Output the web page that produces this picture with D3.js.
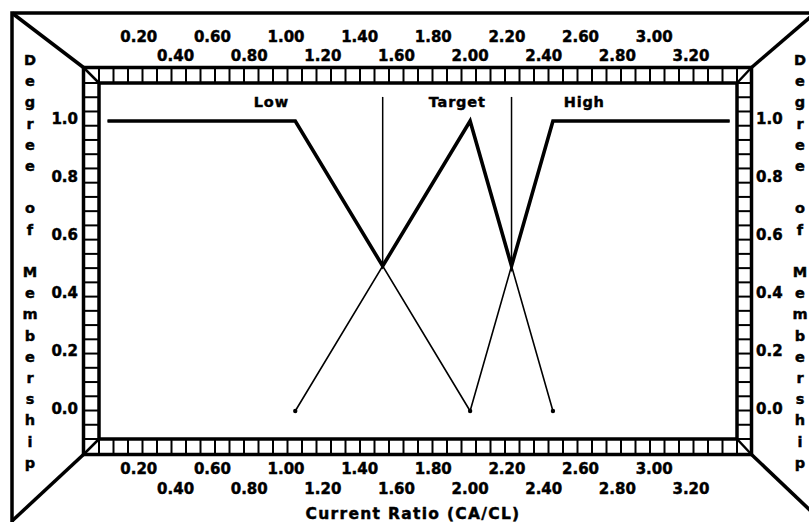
<!DOCTYPE html>
<html><head><meta charset="utf-8">
<script src="https://cdn.jsdelivr.net/npm/d3@7"></script>
<style>
html,body{margin:0;padding:0;background:#fff;}
svg{display:block;}
text{font-family:"DejaVu Sans",sans-serif;font-weight:bold;fill:#000;stroke:#000;stroke-width:0.45px;}
</style></head>
<body>
<svg id="c" width="809" height="522"></svg>
<script>
// ---- data ----
const xTicksRow1 = [0.20, 0.60, 1.00, 1.40, 1.80, 2.20, 2.60, 3.00];
const xTicksRow2 = [0.40, 0.80, 1.20, 1.60, 2.00, 2.40, 2.80, 3.20];
const yTicks = [0.0, 0.2, 0.4, 0.6, 0.8, 1.0];
const lowSet = [[0.03, 1], [1.05, 1], [2.00, 0]];
const targetSet = [[1.05, 0], [2.00, 1], [2.45, 0]];
const highSet = [[2.00, 0], [2.45, 1], [3.41, 1]];
const envelope = [[0.03, 1], [1.05, 1], [1.525, 0.5], [2.00, 1], [2.225, 0.5], [2.45, 1], [3.41, 1]];
const zeroPoints = [[1.05, 0], [2.00, 0], [2.45, 0]];
const crossMarks = [1.525, 2.225];
const setLabels = ["Low", "Target", "High"];
const setLabelX = [0.92, 1.93, 2.62];
const yTitle = "Degree of Membership";
const xTitle = "Current Ratio (CA/CL)";

// ---- layout ----
const svg = d3.select("#c");
const P = {l: 99, r: 737, t: 83, b: 439}; // inner plot
const S = 15.5;                             // strip width
const x = d3.scaleLinear().domain([0, 3.45]).range([102, 737]);
const y = d3.scaleLinear().domain([0, 1]).range([411, 121]);

const outer = {l: 12, t: 13, r: 815, bl: 521, br: 515};
const O = {l: P.l - S, r: P.r + S - 1, t: P.t - S, b: P.b + S};

// outer frame
svg.append("path")
  .attr("d", `M${outer.l},${outer.bl + 10}L${outer.l},${outer.t}L${outer.r},${outer.t}L${outer.r},${outer.br}`)
  .attr("fill", "none").attr("stroke", "#000").attr("stroke-width", 3.5);
const diag = [[outer.l, outer.t, O.l, O.t], [outer.r, outer.t, O.r, O.t],
              [outer.l, outer.bl, O.l, O.b], [outer.r, outer.br, O.r, O.b]];
svg.selectAll(".dg").data(diag).enter().append("line")
  .attr("x1", d => d[0]).attr("y1", d => d[1]).attr("x2", d => d[2]).attr("y2", d => d[3])
  .attr("stroke", "#000").attr("stroke-width", 3.5);

// tick strips
const g = svg.append("g");
const nx = 44, ny = 25;
const dxs = d3.range(nx + 1).map(i => P.l + i * (P.r - P.l) / nx);
const dys = d3.range(ny + 1).map(i => P.t + i * (P.b - P.t) / ny);
g.selectAll(".vt").data(dxs).enter().append("line")
  .attr("x1", d => d).attr("x2", d => d).attr("y1", O.t).attr("y2", P.t)
  .attr("stroke", "#000").attr("stroke-width", 2);
g.selectAll(".vb").data(dxs).enter().append("line")
  .attr("x1", d => d).attr("x2", d => d).attr("y1", P.b).attr("y2", O.b)
  .attr("stroke", "#000").attr("stroke-width", 2);
g.selectAll(".hl").data(dys).enter().append("line")
  .attr("y1", d => d).attr("y2", d => d).attr("x1", O.l).attr("x2", P.l)
  .attr("stroke", "#000").attr("stroke-width", 2);
g.selectAll(".hr").data(dys).enter().append("line")
  .attr("y1", d => d).attr("y2", d => d).attr("x1", P.r).attr("x2", O.r)
  .attr("stroke", "#000").attr("stroke-width", 2);
g.append("rect").attr("x", O.l).attr("y", O.t).attr("width", O.r - O.l).attr("height", O.b - O.t)
  .attr("fill", "none").attr("stroke", "#000").attr("stroke-width", 3.5);
g.append("rect").attr("x", P.l).attr("y", P.t).attr("width", P.r - P.l).attr("height", P.b - P.t)
  .attr("fill", "none").attr("stroke", "#000").attr("stroke-width", 3.5);
[[O.l, O.t, P.l, P.t], [O.r, O.t, P.r, P.t], [O.l, O.b, P.l, P.b], [O.r, O.b, P.r, P.b]].forEach(d => {
  g.append("line").attr("x1", d[0]).attr("y1", d[1]).attr("x2", d[2]).attr("y2", d[3])
    .attr("stroke", "#000").attr("stroke-width", 2.5);
});

// x tick labels (top and bottom, two staggered rows)
const fmt = d3.format(".2f");
function xRow(vals, yy) {
  svg.append("g").selectAll("text").data(vals).enter().append("text")
    .attr("x", d => x(d)).attr("y", yy).attr("text-anchor", "middle")
    .attr("font-size", 15).text(fmt);
}
xRow(xTicksRow1, 42);
xRow(xTicksRow2, 61);
xRow(xTicksRow1, 474);
xRow(xTicksRow2, 494);

// y tick labels
svg.append("g").selectAll("text").data(yTicks).enter().append("text")
  .attr("x", 78).attr("y", d => y(d) + 3).attr("text-anchor", "end")
  .attr("font-size", 15).text(d3.format(".1f"));
svg.append("g").selectAll("text").data(yTicks).enter().append("text")
  .attr("x", 756).attr("y", d => y(d) + 3).attr("text-anchor", "start")
  .attr("font-size", 15).text(d3.format(".1f"));

// vertical stacked y titles
const letters = yTitle.split("");
[30, 800].forEach(cx => {
  svg.append("g").selectAll("text").data(letters).enter().append("text")
    .attr("x", cx).attr("y", (d, i) => 65 + i * 21.2).attr("text-anchor", "middle")
    .attr("font-size", 14.5).text(d => d);
});

// x title
svg.append("text").attr("x", 413).attr("y", 519).attr("text-anchor", "middle")
  .attr("font-size", 15.5).attr("letter-spacing", 1.3).text(xTitle);

// data
const line = d3.line().x(d => x(d[0])).y(d => y(d[1]));
[lowSet, targetSet, highSet].forEach(s => {
  svg.append("path").attr("d", line(s)).attr("fill", "none")
    .attr("stroke", "#000").attr("stroke-width", 1.6);
});
svg.append("path").attr("d", line(envelope)).attr("fill", "none")
  .attr("stroke", "#000").attr("stroke-width", 3.6).attr("stroke-linejoin", "miter");
svg.selectAll(".dot").data(zeroPoints).enter().append("circle")
  .attr("cx", d => x(d[0])).attr("cy", d => y(d[1])).attr("r", 2.2).attr("fill", "#000");
svg.selectAll(".cm").data(crossMarks).enter().append("line")
  .attr("x1", d => x(d)).attr("x2", d => x(d)).attr("y1", y(1.083)).attr("y2", y(0.5))
  .attr("stroke", "#000").attr("stroke-width", 1.5);
svg.append("g").selectAll("text").data(setLabels).enter().append("text")
  .attr("x", (d, i) => x(setLabelX[i])).attr("y", 107).attr("text-anchor", "middle")
  .attr("font-size", 14.5).attr("letter-spacing", 0.8).text(d => d);
</script>
</body></html>
